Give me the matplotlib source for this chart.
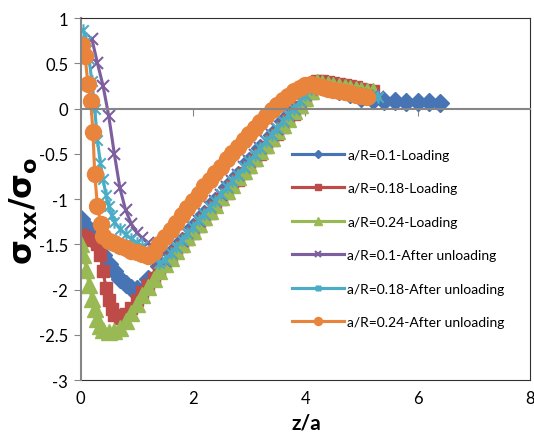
import matplotlib
matplotlib.use("Agg")
import matplotlib.pyplot as plt
from matplotlib.path import Path

plt.rcParams['font.family'] = ['Lato', 'DejaVu Sans']

# --- data (z/a, sigma_xx/sigma_o) ---
blue_z = [0.0, 0.1, 0.2, 0.3, 0.4, 0.5, 0.6, 0.7, 0.8, 0.9, 1.0, 1.2, 1.4, 1.6, 1.8, 2.0,
          2.2, 2.4, 2.6, 2.8, 3.0, 3.2, 3.4, 3.6, 3.8, 4.0, 4.2, 4.4, 4.6, 4.8, 5.0, 5.2,
          5.4, 5.6, 5.8, 6.0, 6.2, 6.4]
blue_y = [-1.22, -1.3, -1.4, -1.5, -1.62, -1.72, -1.8, -1.88, -1.94, -1.98, -1.99, -1.88,
          -1.74, -1.6, -1.46, -1.31, -1.16, -1.02, -0.87, -0.73, -0.58, -0.43, -0.29, -0.14,
          0.0, 0.15, 0.27, 0.24, 0.2, 0.16, 0.12, 0.1, 0.08, 0.08, 0.075, 0.07, 0.07, 0.065]

red_z = [0.0, 0.1, 0.2, 0.3, 0.35, 0.4, 0.45, 0.5, 0.55, 0.6, 0.7, 0.8, 0.9, 1.0, 1.1, 1.2,
         1.3, 1.4, 1.5, 1.6, 1.7, 1.8, 1.9, 2.0, 2.1, 2.2, 2.3, 2.4, 2.5, 2.6, 2.7, 2.8, 2.9,
         3.0, 3.1, 3.2, 3.3, 3.4, 3.5, 3.6, 3.7, 3.8, 3.9, 4.0, 4.1, 4.2, 4.3, 4.4, 4.5, 4.6,
         4.7, 4.8, 4.9, 5.0, 5.1, 5.2]
red_y = [-1.4, -1.42, -1.45, -1.5, -1.62, -1.8, -1.98, -2.12, -2.22, -2.28, -2.31, -2.27,
         -2.2, -2.11, -2.03, -1.95, -1.87, -1.8, -1.73, -1.66, -1.59, -1.52, -1.44, -1.37,
         -1.3, -1.22, -1.15, -1.08, -1.0, -0.93, -0.86, -0.79, -0.71, -0.64, -0.57, -0.5,
         -0.42, -0.35, -0.28, -0.2, -0.13, -0.06, 0.02, 0.09, 0.17, 0.3, 0.3, 0.29, 0.28,
         0.27, 0.26, 0.25, 0.24, 0.22, 0.21, 0.2]

green_z = [0.0, 0.05, 0.1, 0.15, 0.2, 0.25, 0.3, 0.35, 0.4, 0.5, 0.6, 0.7, 0.8, 0.9, 1.0,
           1.1, 1.2, 1.3, 1.4, 1.5, 1.6, 1.7, 1.8, 1.9, 2.0, 2.1, 2.2, 2.3, 2.4, 2.5, 2.6,
           2.7, 2.8, 2.9, 3.0, 3.1, 3.2, 3.3, 3.4, 3.5, 3.6, 3.7, 3.8, 3.9, 4.0, 4.1, 4.2,
           4.3, 4.4, 4.5, 4.6, 4.7, 4.8, 4.9, 5.0, 5.1, 5.2]
green_y = [-1.5, -1.62, -1.78, -1.95, -2.1, -2.22, -2.32, -2.4, -2.45, -2.47, -2.46, -2.42,
           -2.35, -2.26, -2.16, -2.06, -1.97, -1.88, -1.8, -1.72, -1.65, -1.57, -1.5, -1.42,
           -1.35, -1.28, -1.2, -1.13, -1.06, -0.98, -0.91, -0.84, -0.76, -0.69, -0.62, -0.55,
           -0.47, -0.4, -0.33, -0.25, -0.18, -0.11, -0.03, 0.04, 0.12, 0.2, 0.29, 0.28, 0.27,
           0.26, 0.25, 0.24, 0.23, 0.22, 0.21, 0.2, 0.19]

purple_z = [0.2, 0.3, 0.4, 0.5, 0.6, 0.7, 0.8, 0.9, 1.0, 1.1, 1.2, 1.3, 1.4, 1.5, 1.6, 1.7,
            1.8, 1.9, 2.0, 2.1, 2.2, 2.3, 2.4, 2.5, 2.6, 2.7, 2.8, 2.9, 3.0, 3.1, 3.2, 3.3,
            3.4, 3.5, 3.6, 3.7, 3.8, 3.9, 4.0, 4.1, 4.2, 4.3, 4.4, 4.5, 4.6, 4.7, 4.8, 4.9,
            5.0, 5.1, 5.2, 5.3]
purple_y = [0.77, 0.5, 0.25, -0.08, -0.5, -0.88, -1.12, -1.27, -1.37, -1.43, -1.48, -1.55,
            -1.66, -1.68, -1.6, -1.53, -1.46, -1.38, -1.31, -1.24, -1.16, -1.09, -1.02,
            -0.95, -0.87, -0.8, -0.73, -0.65, -0.58, -0.51, -0.43, -0.36, -0.29, -0.22,
            -0.14, -0.07, 0.0, 0.08, 0.15, 0.22, 0.24, 0.22, 0.21, 0.2, 0.19, 0.18, 0.17,
            0.16, 0.15, 0.145, 0.14, 0.13]

teal_z = [0.05, 0.1, 0.15, 0.2, 0.25, 0.3, 0.35, 0.4, 0.45, 0.5, 0.55, 0.6, 0.7, 0.8, 0.9,
          1.0, 1.1, 1.2, 1.3, 1.4, 1.5, 1.6, 1.7, 1.8, 1.9, 2.0, 2.1, 2.2, 2.3, 2.4, 2.5,
          2.6, 2.7, 2.8, 2.9, 3.0, 3.1, 3.2, 3.3, 3.4, 3.5, 3.6, 3.7, 3.8, 3.9, 4.0, 4.1,
          4.2, 4.3, 4.4, 4.5, 4.6, 4.7, 4.8, 4.9, 5.0, 5.1, 5.2, 5.3]
teal_y = [0.87, 0.75, 0.55, 0.3, 0.0, -0.35, -0.6, -0.78, -0.95, -1.08, -1.18, -1.25,
          -1.33, -1.39, -1.44, -1.48, -1.52, -1.57, -1.63, -1.71, -1.67, -1.6, -1.53, -1.45,
          -1.38, -1.31, -1.23, -1.16, -1.09, -1.02, -0.94, -0.87, -0.8, -0.73, -0.65,
          -0.58, -0.51, -0.43, -0.36, -0.29, -0.21, -0.14, -0.07, 0.0, 0.08, 0.15, 0.22,
          0.23, 0.22, 0.21, 0.2, 0.19, 0.18, 0.17, 0.16, 0.15, 0.14, 0.14, 0.13]

orange_z = [0.0, 0.03, 0.08, 0.13, 0.18, 0.22, 0.25, 0.3, 0.36, 0.4, 0.5, 0.6, 0.7, 0.8,
            0.9, 1.0, 1.1, 1.2, 1.3, 1.4, 1.5, 1.6, 1.7, 1.8, 1.9, 2.0, 2.1, 2.2, 2.3, 2.4,
            2.5, 2.6, 2.7, 2.8, 2.9, 3.0, 3.1, 3.2, 3.3, 3.4, 3.5, 3.6, 3.7, 3.8, 3.9, 4.0,
            4.1, 4.2, 4.3, 4.4, 4.5, 4.6, 4.7, 4.8, 4.9, 5.0, 5.1]
orange_y = [0.65, 0.7, 0.58, 0.27, 0.08, -0.26, -0.72, -1.08, -1.28, -1.41, -1.46, -1.49,
            -1.52, -1.54, -1.57, -1.59, -1.61, -1.63, -1.58, -1.5, -1.42, -1.34, -1.26,
            -1.18, -1.1, -1.02, -0.94, -0.86, -0.79, -0.71, -0.64, -0.56, -0.49, -0.42,
            -0.35, -0.28, -0.21, -0.15, -0.08, -0.02, 0.04, 0.09, 0.14, 0.19, 0.23, 0.26,
            0.27, 0.25, 0.24, 0.22, 0.21, 0.2, 0.18, 0.17, 0.15, 0.14, 0.13]

labels = ['a/R=0.1-Loading', 'a/R=0.18-Loading', 'a/R=0.24-Loading',
          'a/R=0.1-After unloading', 'a/R=0.18-After unloading', 'a/R=0.24-After unloading']
x_ticks = [0, 2, 4, 6, 8]
y_ticks = [-3, -2.5, -2, -1.5, -1, -0.5, 0, 0.5, 1]
y_ticklabels = ['-3', '-2.5', '-2', '-1.5', '-1', '-0.5', '0', '0.5', '1']

# Excel style "star" marker: an X with a vertical stroke
star = Path([(-1, -1), (1, 1), (-1, 1), (1, -1), (0, -1.2), (0, 1.2)],
            [Path.MOVETO, Path.LINETO, Path.MOVETO, Path.LINETO, Path.MOVETO, Path.LINETO])

series = [
    (blue_z, blue_y, '#4674B4', 'D', 9, 1),
    (red_z, red_y, '#BE4B48', 's', 9, 1),
    (green_z, green_y, '#98B954', '^', 11, 1),
    (purple_z, purple_y, '#7D5FA0', 'x', 9, 1.5),
    (teal_z, teal_y, '#4BACC6', star, 9, 1.5),
    (orange_z, orange_y, '#E9843C', 'o', 11.5, 1),
]

fig = plt.figure(figsize=(5.34, 4.35), dpi=100)
ax = fig.add_axes([0.151, 0.124, 0.8415, 0.832])

for (z, y, c, m, ms, mew), lab in zip(series, labels):
    ax.plot(z, y, color=c, lw=2.25, marker=m, markersize=ms, markeredgewidth=mew,
            markerfacecolor=c, markeredgecolor=c, label=lab)

ax.set_xlim(0, 8)
ax.set_ylim(-3, 1)
ax.set_xticks(x_ticks)
ax.set_yticks(y_ticks)
ax.set_yticklabels(y_ticklabels)

# x axis crosses at y=0 (Excel style), labels stay at the bottom
ax.spines['bottom'].set_position(('data', 0))
ax.spines['bottom'].set_color('#868686')
ax.spines['left'].set_color('#868686')
ax.spines['left'].set_linewidth(1.5)
ax.spines['bottom'].set_linewidth(1.5)
ax.spines['top'].set_color('#303030')
ax.spines['right'].set_color('#303030')
ax.tick_params(axis='x', direction='out', length=5, color='#868686', labelbottom=False)
ax.tick_params(axis='y', direction='out', length=5, color='#868686', labelsize=12, pad=4)

sec = ax.secondary_xaxis('bottom')
sec.set_xticks(x_ticks)
sec.tick_params(length=0, labelsize=12, pad=7)
sec.spines['bottom'].set_color('#303030')

fig.text(0.574, 0.027, 'z/a', fontsize=15, fontweight='bold', ha='center', va='center')
fig.text(0.045, 0.515, r'$\mathbf{σ_{xx}/σ_{o}}$', rotation=90, fontsize=23,
         ha='center', va='center')

ax.legend(loc='upper left', bbox_to_anchor=(0.457, 0.655), frameon=False, fontsize=10,
          handlelength=3.8, labelspacing=1.55, markerscale=0.5, handletextpad=0.2,
          borderaxespad=0)

fig.savefig('out.png', dpi=100)
